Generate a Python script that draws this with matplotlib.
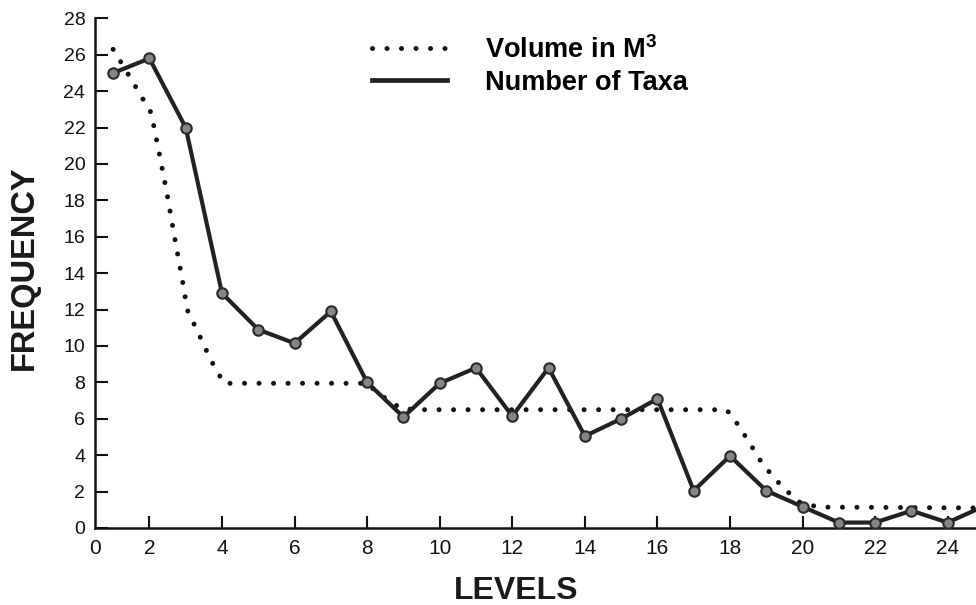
import matplotlib
matplotlib.use("Agg")
import matplotlib.pyplot as plt
from matplotlib.lines import Line2D

# ---- data ----
levels = list(range(1, 26))
taxa = [25.0, 25.8, 22.0, 12.9, 10.9, 10.15, 11.9, 8.0, 6.1, 7.95, 8.8, 6.15,
        8.8, 5.05, 6.0, 7.1, 2.05, 3.96, 2.05, 1.17, 0.3, 0.3, 0.95, 0.3, 1.2]

vol_x = [1.0, 1.44, 2.05, 2.27, 2.49, 2.7, 2.91, 3.04, 3.35, 3.7, 4.05, 8.0,
         8.3, 8.6, 8.95, 9.5, 17.9, 18.08, 18.5, 18.9, 19.38, 19.87, 20.43, 25.0]
vol_y = [26.3, 24.85, 22.8, 20.6, 18.3, 15.9, 13.6, 12.0, 10.7, 9.2, 7.95, 7.95,
         7.4, 7.0, 6.55, 6.5, 6.5, 6.1, 4.8, 3.5, 2.4, 1.45, 1.15, 1.1]

xtick_pos = [0.5, 2, 4, 6, 8, 10, 12, 14, 16, 18, 20, 22, 24]
xtick_lab = ["0", "2", "4", "6", "8", "10", "12", "14", "16", "18", "20", "22", "24"]
ytick_pos = list(range(0, 29, 2))
ytick_lab = [str(v) for v in ytick_pos]

series_labels = ["Volume in M$^{\\mathbf{3}}$", "Number of Taxa"]

plt.rcParams["font.family"] = ["Liberation Sans", "DejaVu Sans"]
plt.rcParams["mathtext.fontset"] = "custom"
plt.rcParams["mathtext.rm"] = "Liberation Sans:bold"
plt.rcParams["mathtext.bf"] = "Liberation Sans:bold"
plt.rcParams["mathtext.it"] = "Liberation Sans:bold"

fig = plt.figure(figsize=(9.76, 6.05), dpi=100)
ax = fig.add_axes([95 / 976, 77 / 605, 1 - 95 / 976, 509.6 / 605])

dot_style = (0, (0.001, 2.9))
ax.plot(vol_x, vol_y, color="#111111", lw=3.6, linestyle=dot_style,
        dash_capstyle="round", zorder=2)
ax.plot(levels, taxa, color="#222222", lw=3.0, marker="o", markersize=7.5,
        markerfacecolor="#858585", markeredgecolor="#2a2a2a",
        markeredgewidth=1.5, zorder=3)

ax.set_xlim(0.5, 24.78)
ax.set_ylim(0, 28)

for s in ["top", "right"]:
    ax.spines[s].set_visible(False)
for s in ["left", "bottom"]:
    ax.spines[s].set_linewidth(1.8)
    ax.spines[s].set_color("#111111")

ax.set_xticks(xtick_pos)
ax.set_xticklabels(xtick_lab)
ax.set_yticks(ytick_pos)
ax.set_yticklabels(ytick_lab)
ax.tick_params(axis="both", direction="in", length=9, width=1.5,
               colors="#111111")
ax.tick_params(axis="y", pad=7, labelsize=14)
ax.tick_params(axis="x", pad=8, labelsize=15)
ax.xaxis.get_major_ticks()[0].tick1line.set_visible(False)

fig.text(24 / 976, 1 - 268 / 605, "FREQUENCY", rotation=90, ha="center",
         va="center", fontsize=23.5, fontweight="bold", color="#1a1a1a")
fig.text(516 / 976, 1 - 591 / 605, "LEVELS", ha="center", va="center",
         fontsize=23, fontweight="bold", color="#1a1a1a")

handles = [
    Line2D([], [], color="#111111", lw=3.6, linestyle=dot_style,
           dash_capstyle="round"),
    Line2D([], [], color="#222222", lw=3.4),
]
leg = ax.legend(handles, series_labels, loc="upper left",
                bbox_to_anchor=(372 / 976, 1 - 36 / 605),
                bbox_transform=fig.transFigure, frameon=False,
                prop={"size": 19.5, "weight": "bold"}, handlelength=2.77,
                handletextpad=1.4, labelspacing=0.22, borderpad=0,
                borderaxespad=0)

fig.savefig("out.png", dpi=100)
